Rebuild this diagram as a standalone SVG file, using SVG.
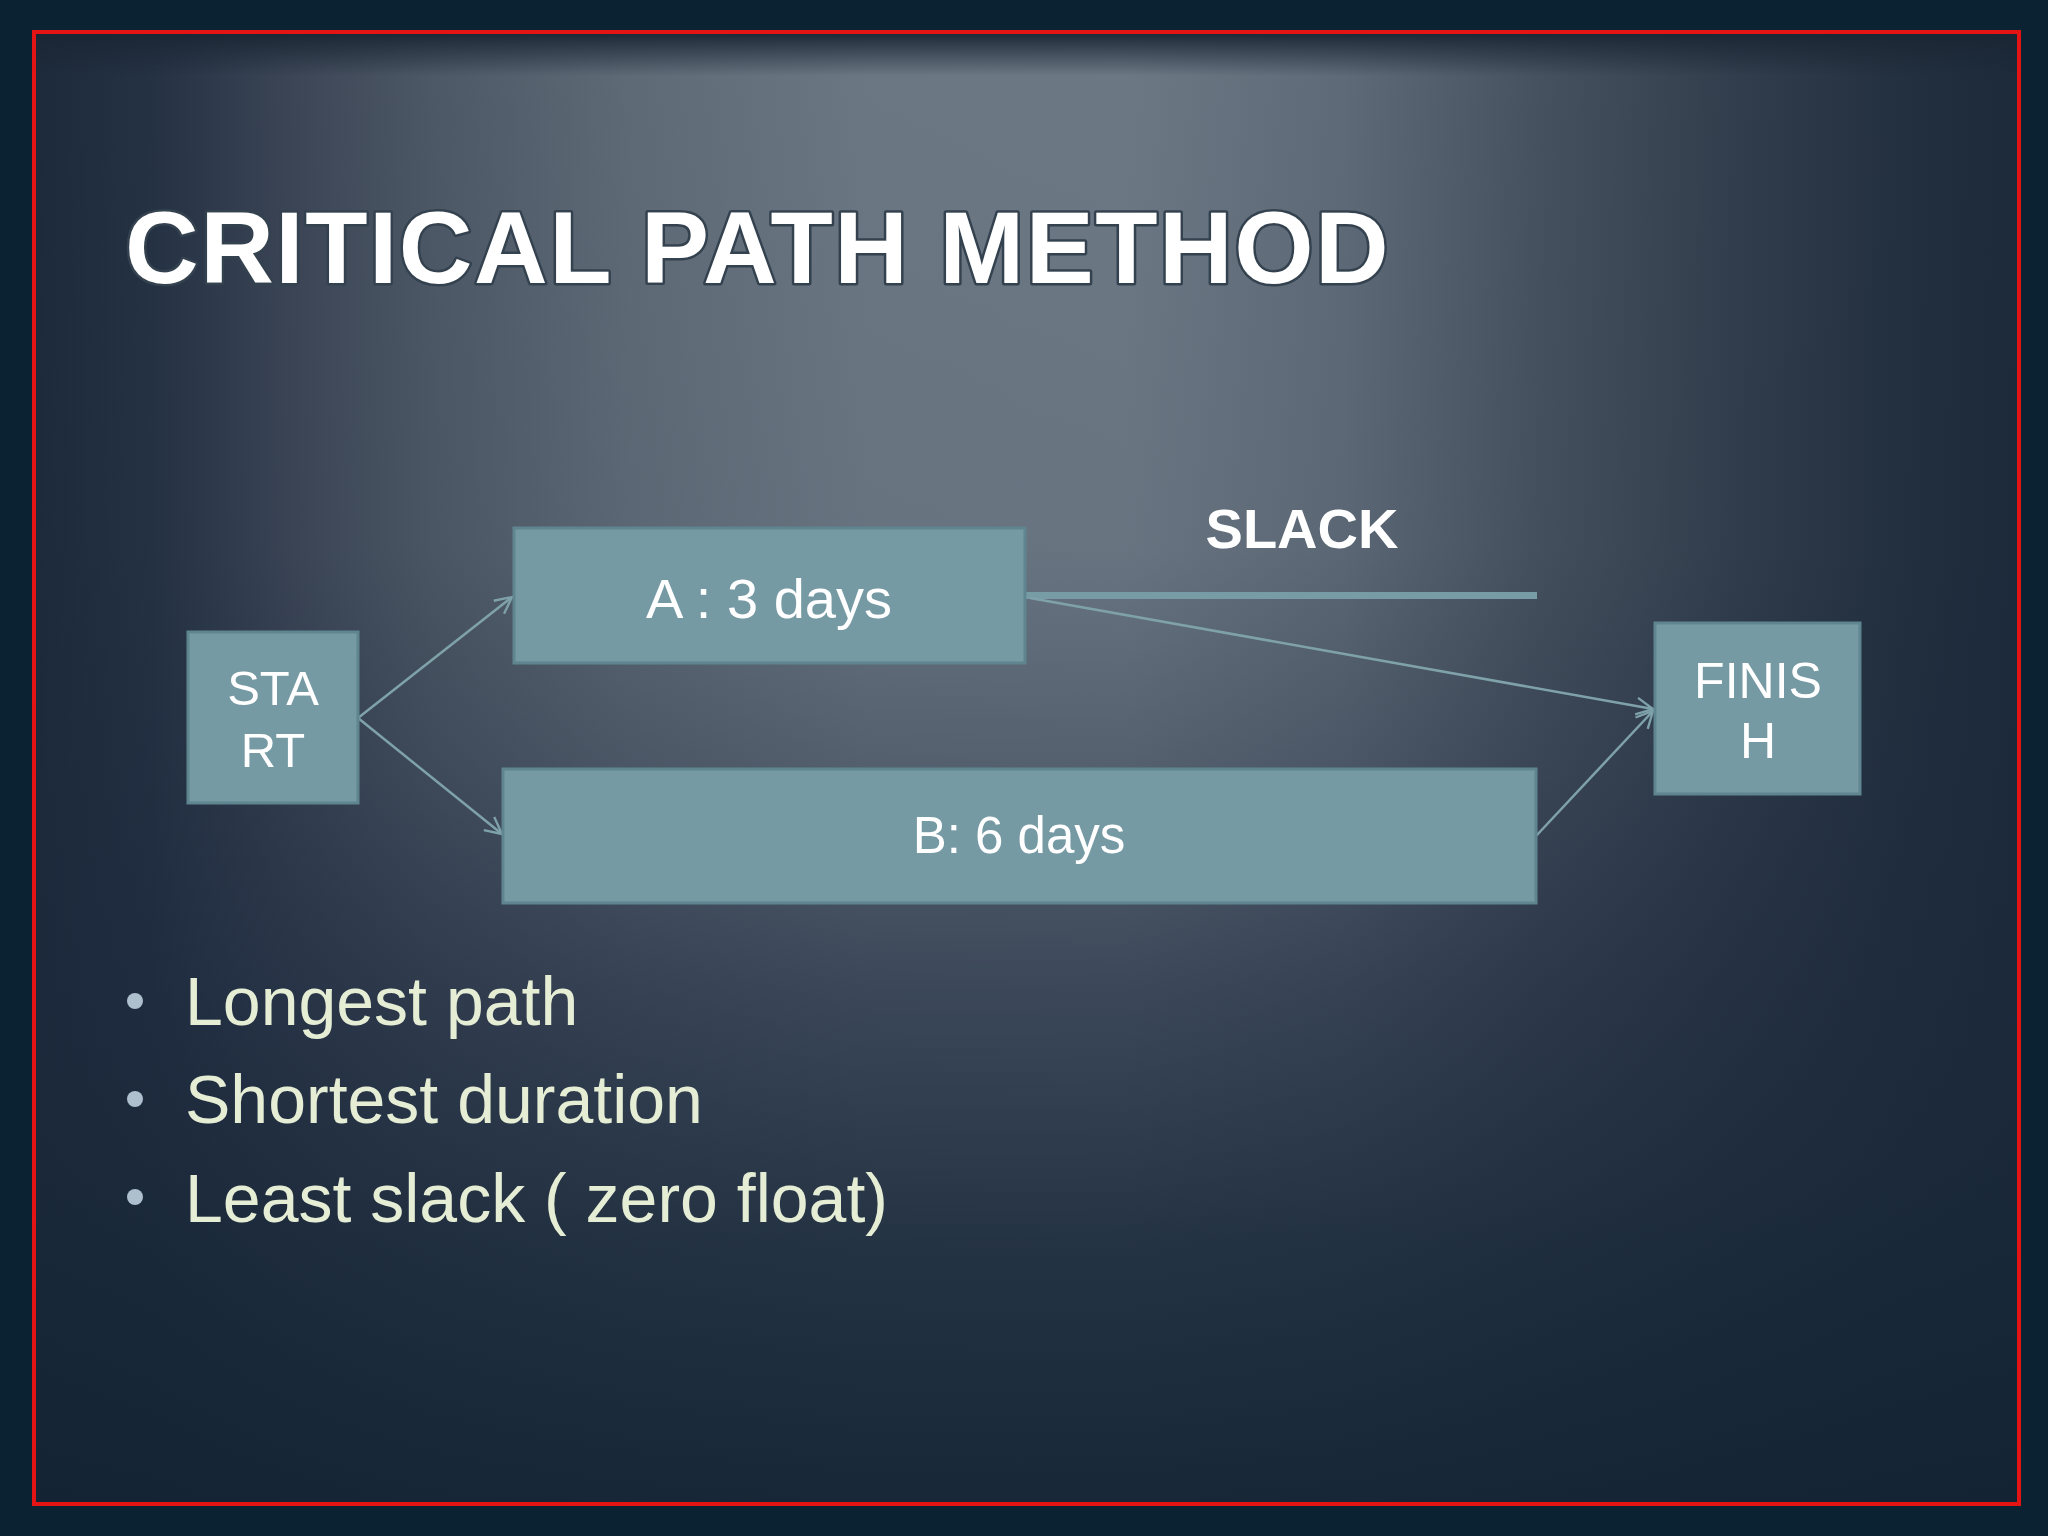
<svg xmlns="http://www.w3.org/2000/svg" width="2048" height="1536" viewBox="0 0 2048 1536">
  <defs>
    <linearGradient id="band" x1="34" y1="0" x2="2019" y2="0" gradientUnits="userSpaceOnUse">
      <stop offset="0" stop-color="#1d2a3b"/>
      <stop offset="0.06" stop-color="#253244"/>
      <stop offset="0.13" stop-color="#3b4556"/>
      <stop offset="0.2" stop-color="#4d5866"/>
      <stop offset="0.3" stop-color="#5f6a77"/>
      <stop offset="0.42" stop-color="#6b7783"/>
      <stop offset="0.55" stop-color="#6c7884"/>
      <stop offset="0.66" stop-color="#5e6a77"/>
      <stop offset="0.76" stop-color="#46515f"/>
      <stop offset="0.86" stop-color="#313d4c"/>
      <stop offset="0.94" stop-color="#23303f"/>
      <stop offset="1" stop-color="#1c2a3a"/>
    </linearGradient>
    <linearGradient id="bottomShade" x1="0" y1="32" x2="0" y2="1504" gradientUnits="userSpaceOnUse">
      <stop offset="0" stop-color="#17263a" stop-opacity="0"/>
      <stop offset="0.35" stop-color="#17263a" stop-opacity="0.05"/>
      <stop offset="0.5" stop-color="#1b283c" stop-opacity="0.3"/>
      <stop offset="0.65" stop-color="#1b283c" stop-opacity="0.6"/>
      <stop offset="0.82" stop-color="#182738" stop-opacity="0.85"/>
      <stop offset="1" stop-color="#132333" stop-opacity="0.95"/>
    </linearGradient>
    <linearGradient id="topShadow" x1="0" y1="0" x2="0" y2="1">
      <stop offset="0" stop-color="#1a2634" stop-opacity="0.95"/>
      <stop offset="1" stop-color="#1a2634" stop-opacity="0"/>
    </linearGradient>
    <marker id="arrow" viewBox="0 0 12 12" refX="11" refY="6" markerWidth="20" markerHeight="20" markerUnits="userSpaceOnUse" orient="auto">
      <path d="M1,1 L11,6 L1,11" fill="none" stroke="#7fa2aa" stroke-width="1.4"/>
    </marker>
    <style>
      .box { fill: #769aa4; stroke: #5f8590; stroke-width: 3; }
      .lbl { font-family: "Liberation Sans", Arial, sans-serif; fill: #ffffff; text-anchor: middle; }
      .conn { fill: none; stroke: #7fa2aa; stroke-width: 2.5; }
      .bullet { font-family: "Liberation Sans", Arial, sans-serif; font-size: 68px; fill: #e6edd5; }
      .dot { fill: #aebfce; }
    </style>
  </defs>

  <!-- outer background -->
  <rect x="0" y="0" width="2048" height="1536" fill="#0a2231"/>

  <!-- slide background -->
  <g id="slide">
    <rect x="34" y="32" width="1985" height="1472" fill="url(#band)"/>
    <rect x="34" y="32" width="1985" height="1472" fill="url(#bottomShade)"/>
    <rect x="34" y="34" width="1985" height="42" fill="url(#topShadow)"/>
    <rect x="34" y="32" width="1985" height="1472" fill="none" stroke="#e51414" stroke-width="4"/>
  </g>

  <!-- title -->
  <g id="title">
    <text x="125" y="283" font-family="Liberation Sans, Arial, sans-serif" font-weight="bold" font-size="102" letter-spacing="1.5" fill="#ffffff" stroke="#34424f" stroke-width="5" paint-order="stroke" stroke-linejoin="round">CRITICAL PATH METHOD</text>
  </g>

  <!-- connectors -->
  <g id="connectors">
    <rect x="1026" y="592" width="511" height="7" fill="#789ca6"/>
    <path class="conn" d="M358,718 L512,597" marker-end="url(#arrow)"/>
    <path class="conn" d="M358,718 L502,834" marker-end="url(#arrow)"/>
    <path class="conn" d="M1030,598 L1653,709" marker-end="url(#arrow)"/>
    <path class="conn" d="M1536,836 L1653,711" marker-end="url(#arrow)"/>
  </g>

  <g id="node-start">
    <rect class="box" x="188" y="632" width="170" height="171"/>
    <text class="lbl" x="273" y="705" font-size="49">STA</text>
    <text class="lbl" x="273" y="767" font-size="49">RT</text>
  </g>

  <g id="node-a">
    <rect class="box" x="514" y="528" width="511" height="135"/>
    <text class="lbl" x="769" y="618" font-size="56">A : 3 days</text>
  </g>

  <g id="node-b">
    <rect class="box" x="503" y="769" width="1033" height="134"/>
    <text class="lbl" x="1019" y="853" font-size="51">B: 6 days</text>
  </g>

  <g id="node-finish">
    <rect class="box" x="1655" y="623" width="205" height="171"/>
    <text class="lbl" x="1758" y="698" font-size="50">FINIS</text>
    <text class="lbl" x="1758" y="758" font-size="50">H</text>
  </g>

  <g id="slack-label">
    <text x="1302" y="548" font-family="Liberation Sans, Arial, sans-serif" font-weight="bold" font-size="56" fill="#ffffff" text-anchor="middle">SLACK</text>
  </g>

  <!-- bullets -->
  <g id="bullets">
    <circle class="dot" cx="135" cy="1001" r="8"/>
    <text class="bullet" x="185" y="1025">Longest path</text>
    <circle class="dot" cx="135" cy="1099" r="8"/>
    <text class="bullet" x="185" y="1123">Shortest duration</text>
    <circle class="dot" cx="135" cy="1197" r="8"/>
    <text class="bullet" x="185" y="1222">Least slack ( zero float)</text>
  </g>
</svg>
